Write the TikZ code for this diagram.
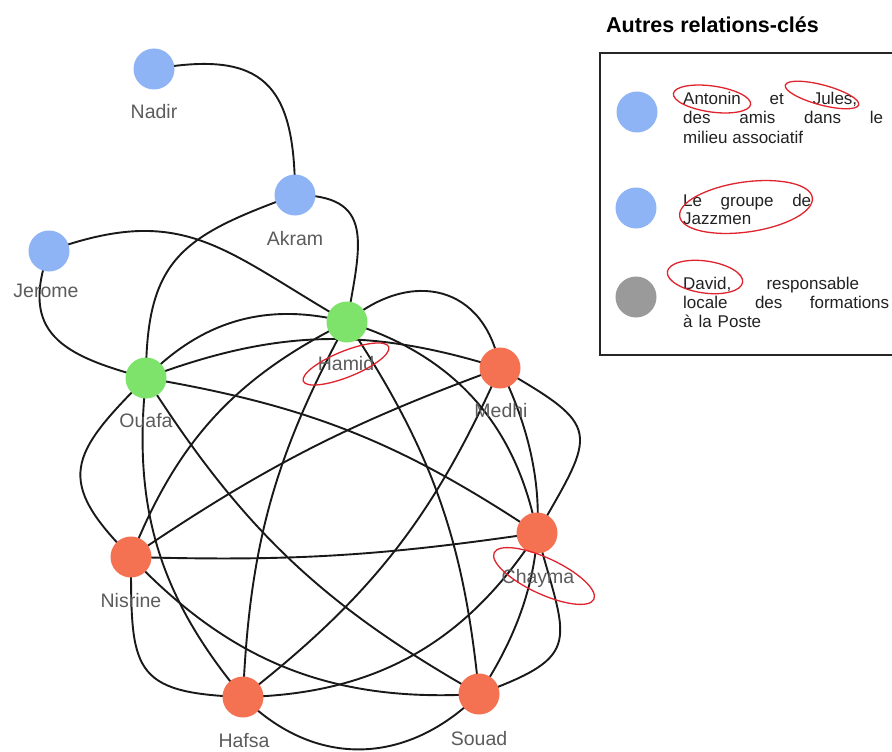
\documentclass[tikz,border=0pt]{standalone}
\usepackage{fontspec}
\setmainfont{Liberation Sans}
\pgfdeclarelayer{bg}
\pgfsetlayers{bg,main}
\definecolor{nblue}{HTML}{8FB4F6}
\definecolor{ngreen}{HTML}{7DE36A}
\definecolor{nred}{HTML}{F47152}
\definecolor{ngray}{HTML}{9A9A9A}
\definecolor{lblgray}{HTML}{5C5C5C}
\definecolor{hlred}{HTML}{E0242E}
\definecolor{legink}{HTML}{222222}
\begin{document}
\begin{tikzpicture}[x=1pt,y=1pt,
  person/.style={circle, minimum size=41pt, inner sep=0pt, draw=none},
  blueP/.style={person, fill=nblue},
  greenP/.style={person, fill=ngreen},
  redP/.style={person, fill=nred},
  grayP/.style={person, fill=ngray},
  link/.style={line width=1.9pt, draw=black!90},
  lbl/.style={text=lblgray, font=\fontsize{19.5}{22}\selectfont, inner sep=0pt, anchor=base},
  legtext/.style={text=legink, font=\fontsize{17}{20}\selectfont, inner sep=0pt, anchor=base west},
  hl/.style={draw=hlred, line width=1.3pt}
]
\useasboundingbox (0,0) rectangle (892,-752);
\clip (0,0) rectangle (892,-752);

% ---- people ----
\node[blueP] (nadir) at (154,-69) {};
\node[blueP] (akram) at (295,-195) {};
\node[blueP] (jerome) at (49,-251) {};
\node[greenP] (hamid) at (347,-322) {};
\node[greenP] (ouafa) at (146,-378) {};
\node[redP] (medhi) at (500,-368) {};
\node[redP] (chayma) at (537,-533) {};
\node[redP] (nisrine) at (131,-557) {};
\node[redP] (hafsa) at (243,-697) {};
\node[redP] (souad) at (479,-694) {};

% ---- labels ----
\node[lbl] (tnadir) at (154,-118) {Nadir};
\node[lbl] (takram) at (295,-245) {Akram};
\node[lbl] (tjerome) at (46,-297) {Jerome};
\node[lbl] (thamid) at (346,-370) {Hamid};
\node[lbl] (touafa) at (146,-427) {Ouafa};
\node[lbl] (tmedhi) at (501,-417) {Medhi};
\node[lbl] (tchayma) at (538,-583) {Chayma};
\node[lbl] (tnisrine) at (131,-607) {Nisrine};
\node[lbl] (thafsa) at (244,-747) {Hafsa};
\node[lbl] (tsouad) at (479,-745) {Souad};

% ---- connectors ----
\begin{pgfonlayer}{bg}
\fill[white] (0,0) rectangle (892,-752);
\draw[link] (nadir.center) to[out=10,in=90,looseness=1.5] (akram.center);
\draw[link] (akram.center) to[out=0,in=80,looseness=1.5] (hamid.center);
\draw[link] (akram.center) to[out=200,in=90,looseness=1.3] (ouafa.center);
\draw[link] (jerome.center) to[out=20,in=150,looseness=1.2] (hamid.center);
\draw[link] (jerome.center) to[out=250,in=165,looseness=1.4] (ouafa.center);
% outer ring
\draw[link] (ouafa.center) to[bend left=30] (hamid.center);
\draw[link] (hamid.center) to[out=40,in=100,looseness=1.35] (medhi.center);
\draw[link] (medhi.center) to[out=-30,in=60,looseness=1.8] (chayma.center);
\draw[link] (chayma.center) to[out=-75,in=20,looseness=1.7] (souad.center);
\draw[link] (souad.center) to[out=225,in=-45,looseness=1.1] (hafsa.center);
\draw[link] (hafsa.center) to[out=178,in=-90,looseness=1.6] (nisrine.center);
\draw[link] (nisrine.center) to[out=135,in=225,looseness=1.55] (ouafa.center);
% skip one
\draw[link] (ouafa.center) to[bend left=19] (medhi.center);
\draw[link] (hamid.center) to[bend left=31] (chayma.center);
\draw[link] (medhi.center) to[bend left=30] (souad.center);
\draw[link] (chayma.center) to[bend left=28] (hafsa.center);
\draw[link] (souad.center) to[bend left=25] (nisrine.center);
\draw[link] (hafsa.center) to[bend left=23] (ouafa.center);
\draw[link] (nisrine.center) to[bend left=21] (hamid.center);
% skip two
\draw[link] (ouafa.center) to[bend left=12] (chayma.center);
\draw[link] (hamid.center) to[bend left=14] (souad.center);
\draw[link] (medhi.center) to[bend left=14] (hafsa.center);
\draw[link] (chayma.center) to[bend left=5] (nisrine.center);
\draw[link] (souad.center) to[bend left=14] (ouafa.center);
\draw[link] (hafsa.center) to[bend left=13] (hamid.center);
\draw[link] (nisrine.center) to[bend left=7] (medhi.center);
\end{pgfonlayer}

% ---- highlights on graph labels ----
\draw[hl, rotate around={22:(346,-364)}] (346,-364) ellipse [x radius=46, y radius=13];
\draw[hl, rotate around={-25:(544,-576)}] (544,-576) ellipse [x radius=55, y radius=18];

% ---- legend ----
\node[font=\bfseries\fontsize{21.5}{24}\selectfont, text=black, anchor=base west, inner sep=0pt] (title) at (606,-33) {Autres relations-clés};
\draw[line width=2pt, draw=black!85] (600,-53) rectangle (910,-355);
\node[blueP] (leg1) at (637,-112) {};
\node[blueP] (leg2) at (636,-208) {};
\node[grayP] (leg3) at (636,-297) {};

\node[legtext] (l1a) at (683,-104.5) {\makebox[174pt][s]{Antonin et Jules,}};
\node[legtext] (l1b) at (683,-123.5) {\makebox[200pt][s]{des amis dans le}};
\node[legtext] (l1c) at (683,-143) {milieu associatif};
\node[legtext] (l2a) at (683,-206) {\makebox[128pt][s]{Le groupe de}};
\node[legtext] (l2b) at (683,-224) {Jazzmen};
\node[legtext] (l3a) at (683,-289) {\makebox[176pt][s]{David, responsable}};
\node[legtext] (l3b) at (683,-308) {\makebox[206pt][s]{locale des formations}};
\node[legtext] (l3c) at (683,-327) {\makebox[78pt][s]{à la Poste}};

\draw[hl, rotate around={-8:(712,-99)}] (712,-99) ellipse [x radius=39, y radius=13];
\draw[hl, rotate around={-15:(822,-95)}] (822,-95) ellipse [x radius=38, y radius=10];
\draw[hl, rotate around={8:(746,-207)}] (746,-207) ellipse [x radius=67, y radius=25];
\draw[hl, rotate around={-8:(705,-277)}] (705,-277) ellipse [x radius=38, y radius=16];
\end{tikzpicture}
\end{document}
